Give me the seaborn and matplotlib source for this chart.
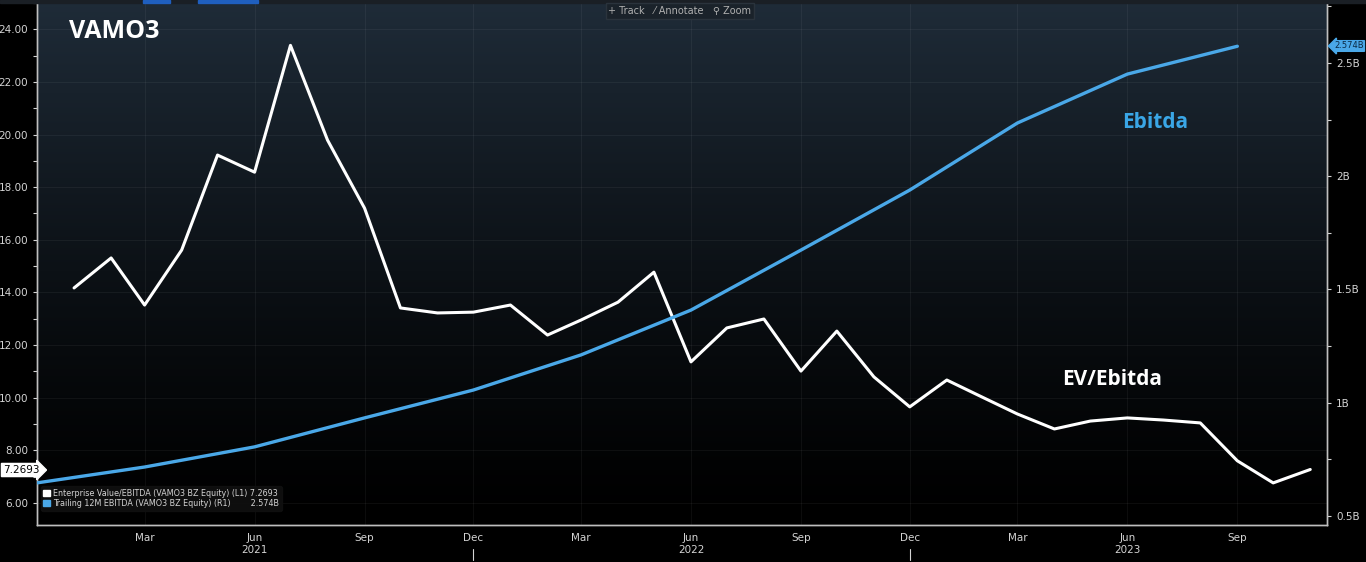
import numpy as np
import pandas as pd
import matplotlib.pyplot as plt
import matplotlib.dates as mdates
from matplotlib.patches import Patch, Rectangle
from matplotlib.ticker import MultipleLocator, FuncFormatter
import seaborn as sns

# EV/Ebitda, monthly Jan 2021 - Nov 2023 (left axis)
ev_months = pd.date_range("2021-01-01", "2023-11-01", freq="MS")
ev_ebitda = [14.17, 15.31, 13.52, 15.61, 19.22, 18.57, 23.39, 19.79, 17.20, 13.41,
             13.22, 13.25, 13.52, 12.38, 12.95, 13.63, 14.77, 11.36, 12.65, 12.99,
             11.01, 12.53, 10.79, 9.65, 10.67, 9.99, 9.38, 8.81, 9.11, 9.23,
             9.15, 9.04, 7.60, 6.76, 7.27]

# Trailing 12M Ebitda (billions), quarterly (right axis)
eb_quarters = pd.date_range("2020-12-01", "2023-09-01", freq="3MS")
ebitda_b = [0.646, 0.716, 0.805, 0.933, 1.056, 1.211, 1.409, 1.674, 1.939, 2.235, 2.451, 2.574]

df_ev = pd.DataFrame({"date": ev_months, "value": ev_ebitda})
df_eb = pd.DataFrame({"date": eb_quarters, "value": ebitda_b})

sns.set_theme(style="dark")
plt.rcParams["font.family"] = ["DejaVu Sans"]

fg = "#d4d4d4"
blue = "#4aa8e8"

fig = plt.figure(figsize=(13.66, 5.62), dpi=100, facecolor="black")
ax = fig.add_axes([37 / 1366, 1 - 525 / 562, (1327 - 37) / 1366, (525 - 3) / 562])
ax.set_facecolor("black")

# gradient background
grad = np.linspace(1, 0, 256).reshape(-1, 1) ** 1.3
top = np.array([0.12, 0.17, 0.22])
img = grad[..., None] * top[None, None, :]
ax.imshow(img, extent=[0, 1, 0, 1], transform=ax.transAxes, aspect="auto", zorder=0)

ax2 = ax.twinx()
ax2.patch.set_visible(False)

sns.lineplot(data=df_ev, x="date", y="value", ax=ax, color="white", linewidth=2.2, zorder=5)
sns.lineplot(data=df_eb, x="date", y="value", ax=ax2, color=blue, linewidth=2.4, zorder=4)

ax.set_xlim(pd.Timestamp("2020-12-01"), pd.Timestamp("2023-11-15"))
ax.set_ylim(5.16, 25.0)
ax2.set_ylim(0.46, 2.765)
ax.set_xlabel("")
ax.set_ylabel("")
ax2.set_ylabel("")

# x ticks
ax.xaxis.set_major_locator(mdates.MonthLocator(bymonth=[3, 6, 9, 12]))
ax.xaxis.set_minor_locator(mdates.MonthLocator())


def xfmt(x, pos):
    d = mdates.num2date(x)
    if d.year == 2020:
        return ""
    s = d.strftime("%b")
    if d.month == 6:
        s += "\n" + str(d.year)
    return s


ax.xaxis.set_major_formatter(FuncFormatter(xfmt))
ax.tick_params(axis="x", which="both", colors=fg, labelsize=7.5, direction="out", length=3, width=0.8)
ax.tick_params(axis="x", which="major", pad=3)

ax.yaxis.set_major_locator(MultipleLocator(2))
ax.yaxis.set_minor_locator(MultipleLocator(1))
ax.yaxis.set_major_formatter(FuncFormatter(lambda v, p: f"{v:.2f}"))
ax.tick_params(axis="y", which="both", colors=fg, labelsize=7.5, length=3, width=0.8)

ax2.yaxis.set_major_locator(MultipleLocator(0.5))
ax2.yaxis.set_minor_locator(MultipleLocator(0.25))
ax2.yaxis.set_major_formatter(FuncFormatter(lambda v, p: f"{v:g}B"))
ax2.tick_params(axis="y", which="both", colors=fg, labelsize=7.5, length=3, width=0.8)

ax.grid(True, which="major", color="white", alpha=0.05, linewidth=0.8)
for a in (ax, ax2):
    for side, sp in a.spines.items():
        sp.set_color("#bfbfbf")
        sp.set_linewidth(1.0)
    a.spines["top"].set_visible(False)

# year separators below the axis
for yr in [2021, 2022]:
    ax.axvline(pd.Timestamp(f"{yr}-12-01"), ymin=-0.068, ymax=-0.046, color=fg, lw=0.8, clip_on=False)

# annotations
ax.text(0.025, 0.945, "VAMO3", transform=ax.transAxes, color="white", fontsize=18,
        fontweight="bold", family=["Open Sans", "DejaVu Sans"], va="center", ha="left", zorder=6)
ax.text(0.841, 0.772, "Ebitda", transform=ax.transAxes, color="#3aa6e6", fontsize=15,
        fontweight="bold", family=["Open Sans", "DejaVu Sans"], va="center", ha="left", zorder=6)
ax.text(0.795, 0.279, "EV/Ebitda", transform=ax.transAxes, color="white", fontsize=15,
        fontweight="bold", family=["Open Sans", "DejaVu Sans"], va="center", ha="left", zorder=6)

# value tags
fig.text(3 / 1366, 1 - 470 / 562, "7.2693", color="black", fontsize=7.5, va="center", ha="left",
         bbox=dict(boxstyle="rarrow,pad=0.15", fc="white", ec="white"))
fig.text(1334 / 1366, 1 - 46 / 562, "2.574B", color="#0b2a44", fontsize=6.0, va="center", ha="left",
         bbox=dict(boxstyle="larrow,pad=0.1", fc=blue, ec=blue))

# legend
handles = [Patch(facecolor="white", edgecolor="white"), Patch(facecolor=blue, edgecolor=blue)]
labels = ["Enterprise Value/EBITDA (VAMO3 BZ Equity) (L1) 7.2693",
          "Trailing 12M EBITDA (VAMO3 BZ Equity) (R1)        2.574B"]
leg = ax.legend(handles, labels, loc="lower left", bbox_to_anchor=(0.0, 0.02), fontsize=5.8,
                frameon=True, facecolor="#101010", edgecolor="#101010", framealpha=0.9,
                labelcolor=fg, handlelength=0.8, handleheight=0.8, handletextpad=0.4,
                labelspacing=0.2, borderpad=0.3)
leg.set_zorder(10)

# toolbar
fig.text(680 / 1366, 1 - 11 / 562, "+ Track   ⁄ Annotate   ⚲ Zoom", color="#b0b0b0", fontsize=7,
         ha="center", va="center",
         bbox=dict(boxstyle="square,pad=0.3", fc="#1a222a", ec="#2a333c"))

# top bar pieces
fig.patches.append(Rectangle((0, 1 - 3 / 562), 1, 3 / 562, transform=fig.transFigure, color="#1a1f25", zorder=0))
fig.patches.append(Rectangle((143 / 1366, 1 - 3 / 562), 27 / 1366, 3 / 562, transform=fig.transFigure, color="#1f5fbf"))
fig.patches.append(Rectangle((198 / 1366, 1 - 3 / 562), 60 / 1366, 3 / 562, transform=fig.transFigure, color="#1f5fbf"))

fig.savefig("out.png", dpi=100, facecolor="black")
